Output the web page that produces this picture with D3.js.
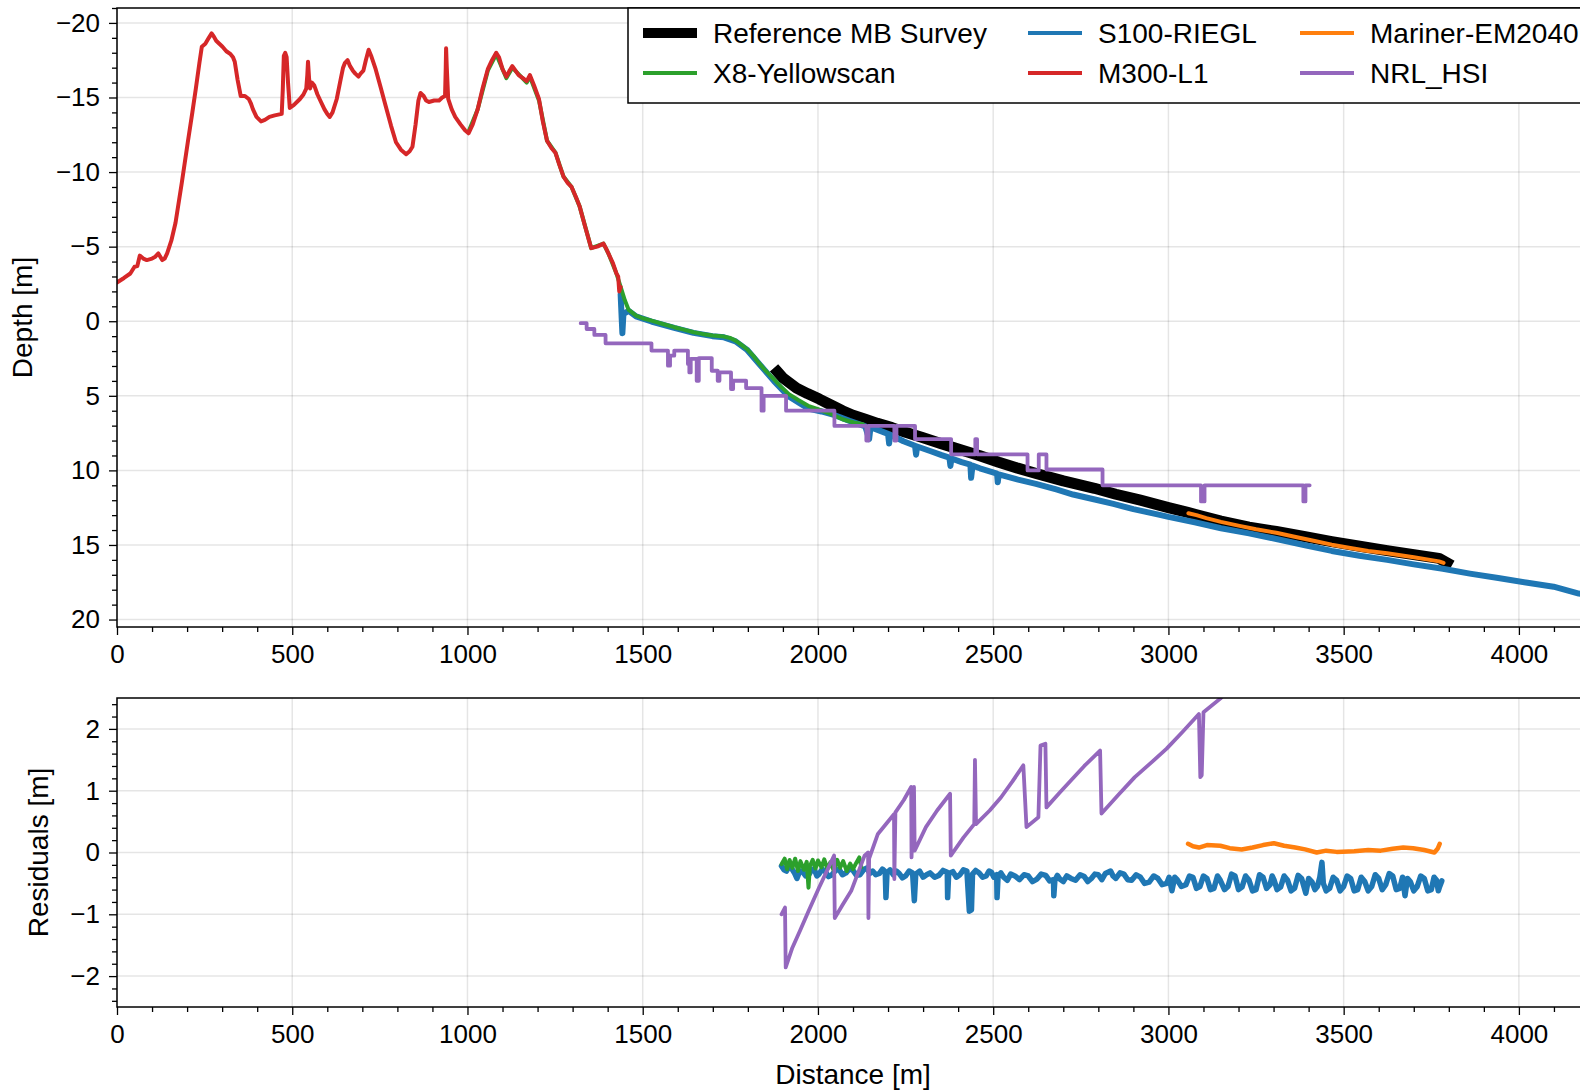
<!DOCTYPE html>
<html>
<head>
<meta charset="utf-8">
<script src="https://cdn.jsdelivr.net/npm/d3@7"></script>
<style>
  body { margin: 0; background: #fff; }
  svg { display: block; font-family: "Liberation Sans", Arial, Helvetica, sans-serif; }
</style>
</head>
<body>
<div id="vis-holder"></div>
<script>
// Figure size and panel placement
const W = 1580, H = 1092;
const left = 117, right = 1589;
const top1 = 8, bottom1 = 627;     // depth panel
const top2 = 698, bottom2 = 1007;  // residual panel

// ---- data: [distance (m), depth (m)] ----
const m300 = [[0,-2.6],[20,-2.9],[38,-3.2],[50,-3.65],[58,-3.7],[65,-4.4],[75,-4.2],[85,-4.1],[100,-4.2],[108,-4.3],[118,-4.55],[124,-4.3],[129,-4.1],[136,-4.2],[143,-4.55],[155,-5.4],[167,-6.6],[185,-9.3],[202,-12.0],[215,-14.0],[225,-15.6],[235,-17.3],[242,-18.4],[252,-18.6],[262,-19.0],[270,-19.3],[276,-19.1],[283,-18.8],[292,-18.6],[301,-18.4],[312,-18.1],[324,-17.9],[331,-17.7],[336,-17.4],[344,-16.2],[353,-15.1],[365,-15.1],[376,-14.9],[382,-14.6],[388,-14.2],[398,-13.7],[411,-13.4],[422,-13.5],[435,-13.7],[450,-13.8],[470,-13.9],[473,-15.5],[476,-17.8],[480,-18.0],[484,-17.7],[488,-16.0],[493,-14.3],[505,-14.5],[522,-14.9],[532,-15.2],[540,-15.6],[543,-16.5],[545,-17.4],[548,-16.3],[551,-15.6],[556,-16.0],[563,-15.8],[572,-15.2],[580,-14.8],[592,-14.2],[600,-13.9],[607,-13.7],[615,-14.0],[627,-14.9],[638,-16.2],[645,-17.0],[650,-17.3],[658,-17.5],[665,-17.1],[673,-16.8],[680,-16.6],[689,-16.4],[695,-16.6],[703,-16.8],[710,-17.5],[718,-18.2],[725,-17.8],[738,-16.9],[752,-15.7],[767,-14.4],[782,-13.1],[796,-12.0],[810,-11.5],[825,-11.2],[835,-11.4],[843,-11.7],[852,-13.2],[860,-14.8],[866,-15.3],[875,-15.1],[882,-14.8],[890,-14.7],[905,-14.8],[919,-14.8],[928,-15.0],[936,-15.1],[938,-17.0],[939,-18.3],[941,-17.0],[945,-14.9],[955,-14.2],[965,-13.7],[980,-13.2],[993,-12.8],[1003,-12.6],[1015,-13.2],[1029,-14.2],[1043,-15.6],[1058,-16.9],[1070,-17.5],[1082,-18.0],[1090,-17.7],[1100,-16.9],[1111,-16.4],[1120,-16.8],[1128,-17.1],[1137,-16.8],[1146,-16.5],[1158,-16.3],[1169,-16.1],[1178,-16.5],[1190,-15.8],[1204,-14.9],[1215,-13.4],[1227,-12.1],[1240,-11.6],[1251,-11.3],[1262,-10.5],[1274,-9.7],[1285,-9.3],[1297,-9.0],[1310,-8.3],[1320,-7.7],[1335,-6.4],[1353,-4.9],[1370,-5.0],[1388,-5.2],[1395,-4.9],[1402,-4.55],[1415,-3.9],[1425,-3.2],[1430,-3.0],[1433,-2.0],[1437,-2.3]];

const x8 = [[1003,-12.7],[1029,-14.2],[1058,-16.8],[1082,-17.9],[1111,-16.3],[1128,-17.0],[1169,-16.0],[1178,-16.4],[1204,-14.8],[1227,-12.1],[1251,-11.3],[1274,-9.7],[1297,-9.0],[1320,-7.7],[1353,-4.9],[1388,-5.2],[1402,-4.55],[1425,-3.2],[1437,-2.3],[1449,-1.4],[1460,-0.76],[1481,-0.38],[1500,-0.2],[1525,-0.04],[1560,0.2],[1590,0.4],[1620,0.58],[1645,0.74],[1670,0.85],[1699,0.96],[1732,1.03],[1750,1.12],[1765,1.3],[1780,1.55],[1797,1.86],[1815,2.3],[1830,2.76],[1850,3.3],[1874,3.88],[1895,4.4],[1917,4.89],[1945,5.3],[1972,5.67],[2000,5.9],[2026,6.12],[2050,6.35],[2070,6.57],[2102,6.79],[2128,6.9]];

const s100 = [[1437,-1.8],[1440,-0.2],[1442,0.8],[1445,-0.5],[1460,-0.7],[1481,-0.33],[1525,0.02],[1590,0.45],[1645,0.78],[1699,1.0],[1732,1.08],[1765,1.35],[1797,1.9],[1830,2.8],[1874,4.0],[1917,5.05],[1972,5.85],[2010,6.05],[2048,6.3],[2090,6.68],[2135,7.05],[2146,7.9],[2150,7.1],[2200,7.55],[2203,8.2],[2206,7.6],[2244,8.05],[2277,8.35],[2280,8.95],[2283,8.4],[2320,8.7],[2353,8.98],[2375,9.15],[2378,9.7],[2381,9.2],[2410,9.45],[2435,9.62],[2437,10.5],[2441,9.68],[2462,9.86],[2511,10.22],[2513,10.8],[2516,10.27],[2571,10.62],[2622,10.9],[2680,11.28],[2728,11.62],[2790,11.95],[2843,12.25],[2900,12.6],[2972,12.97],[3000,13.12],[3075,13.48],[3150,13.88],[3230,14.22],[3308,14.6],[3390,15.02],[3466,15.4],[3545,15.72],[3624,16.0],[3700,16.3],[3783,16.6],[3860,16.92],[3941,17.22],[4020,17.52],[4099,17.8],[4171,18.26],[4200,18.35]];

const referenceMB = [[1885,3.4],[1900,3.8],[1939,4.48],[1970,4.85],[2004,5.22],[2040,5.65],[2070,6.0],[2100,6.3],[2135,6.57],[2170,6.85],[2211,7.13],[2250,7.45],[2298,7.8],[2350,8.2],[2407,8.62],[2460,9.0],[2516,9.45],[2570,9.85],[2625,10.22],[2700,10.7],[2789,11.2],[2850,11.6],[2920,12.0],[3000,12.5],[3055,12.82],[3100,13.1],[3150,13.4],[3230,13.8],[3308,14.1],[3390,14.45],[3466,14.78],[3550,15.1],[3624,15.38],[3700,15.65],[3772,15.9],[3795,16.2]];

const mariner = [[3057,12.87],[3080,13.0],[3108,13.2],[3150,13.45],[3203,13.72],[3250,13.95],[3308,14.18],[3360,14.45],[3414,14.72],[3466,14.98],[3519,15.2],[3570,15.4],[3624,15.56],[3700,15.82],[3772,16.1],[3785,16.2]];

// stepped (value holds until next distance)
const nrl = [[1323,0.13],[1340,0.52],[1362,0.92],[1394,1.48],[1525,1.97],[1572,2.98],[1578,2.31],[1590,1.97],[1629,2.87],[1633,3.43],[1637,2.53],[1654,3.99],[1660,2.47],[1697,3.32],[1714,3.99],[1719,3.43],[1752,4.55],[1758,3.99],[1795,4.48],[1839,6.0],[1845,5.0],[1909,6.0],[2047,7.02],[2138,8.0],[2144,7.02],[2218,8.0],[2224,7.02],[2277,7.9],[2380,8.92],[2449,7.9],[2454,8.92],[2598,10.0],[2630,8.93],[2652,9.94],[2812,11.0],[3093,12.08],[3103,11.0],[3385,12.08],[3391,11.0],[3403,11.0]];

// ---- residuals: [distance (m), residual (m)] ----
const resS100 = [[1896,-0.22],[1903,-0.28],[1910,-0.3],[1918,-0.22],[1925,-0.26],[1933,-0.33],[1940,-0.42],[1948,-0.3],[1955,-0.3],[1965,-0.38],[1975,-0.35],[1983,-0.27],[1990,-0.28],[1997,-0.38],[2003,-0.35],[2012,-0.27],[2020,-0.3],[2030,-0.39],[2040,-0.36],[2050,-0.29],[2060,-0.27],[2070,-0.36],[2080,-0.33],[2090,-0.26],[2100,-0.29],[2110,-0.37],[2120,-0.36],[2130,-0.28],[2140,-0.25],[2148,-0.34],[2156,-0.3],[2165,-0.36],[2175,-0.34],[2184,-0.27],[2192,-0.31],[2194,-0.73],[2197,-0.33],[2206,-0.28],[2215,-0.36],[2224,-0.3],[2232,-0.34],[2241,-0.41],[2250,-0.38],[2260,-0.3],[2270,-0.33],[2275,-0.78],[2279,-0.35],[2290,-0.3],[2300,-0.4],[2310,-0.36],[2320,-0.33],[2333,-0.4],[2345,-0.37],[2357,-0.29],[2369,-0.32],[2370,-0.73],[2373,-0.34],[2385,-0.31],[2395,-0.4],[2405,-0.36],[2415,-0.28],[2425,-0.3],[2432,-0.95],[2438,-0.93],[2441,-0.35],[2450,-0.29],[2460,-0.33],[2470,-0.4],[2480,-0.38],[2488,-0.3],[2495,-0.32],[2502,-0.4],[2510,-0.36],[2511,-0.73],[2514,-0.38],[2522,-0.33],[2530,-0.4],[2540,-0.45],[2550,-0.35],[2562,-0.38],[2575,-0.44],[2588,-0.36],[2600,-0.38],[2612,-0.47],[2625,-0.43],[2637,-0.35],[2650,-0.37],[2661,-0.46],[2672,-0.44],[2673,-0.7],[2676,-0.45],[2683,-0.37],[2690,-0.43],[2700,-0.47],[2710,-0.38],[2722,-0.42],[2735,-0.45],[2748,-0.36],[2760,-0.39],[2770,-0.47],[2780,-0.42],[2790,-0.35],[2800,-0.36],[2810,-0.44],[2820,-0.34],[2835,-0.3],[2842,-0.38],[2850,-0.42],[2862,-0.33],[2873,-0.35],[2884,-0.44],[2895,-0.45],[2908,-0.36],[2920,-0.4],[2932,-0.5],[2945,-0.48],[2958,-0.38],[2970,-0.42],[2982,-0.52],[2995,-0.5],[3002,-0.4],[3010,-0.62],[3018,-0.4],[3025,-0.44],[3037,-0.55],[3050,-0.52],[3060,-0.38],[3070,-0.4],[3080,-0.58],[3090,-0.55],[3100,-0.38],[3110,-0.42],[3120,-0.6],[3130,-0.58],[3140,-0.38],[3148,-0.45],[3160,-0.6],[3170,-0.55],[3180,-0.35],[3190,-0.38],[3200,-0.6],[3210,-0.56],[3220,-0.38],[3230,-0.45],[3240,-0.62],[3250,-0.6],[3260,-0.36],[3270,-0.4],[3280,-0.58],[3290,-0.52],[3296,-0.38],[3301,-0.44],[3310,-0.6],[3320,-0.56],[3330,-0.38],[3340,-0.45],[3350,-0.62],[3360,-0.58],[3370,-0.37],[3380,-0.42],[3392,-0.66],[3400,-0.42],[3410,-0.48],[3418,-0.6],[3425,-0.55],[3432,-0.4],[3438,-0.16],[3442,-0.5],[3450,-0.62],[3460,-0.58],[3470,-0.4],[3480,-0.45],[3490,-0.62],[3500,-0.55],[3510,-0.38],[3520,-0.42],[3530,-0.62],[3540,-0.6],[3550,-0.4],[3560,-0.47],[3570,-0.62],[3580,-0.55],[3590,-0.36],[3600,-0.42],[3610,-0.6],[3620,-0.52],[3630,-0.34],[3640,-0.38],[3650,-0.6],[3660,-0.58],[3668,-0.4],[3675,-0.7],[3682,-0.42],[3690,-0.47],[3700,-0.62],[3710,-0.55],[3720,-0.38],[3730,-0.42],[3740,-0.62],[3750,-0.6],[3758,-0.4],[3765,-0.45],[3770,-0.62],[3774,-0.55],[3780,-0.46]];

const resX8 = [[1896,-0.19],[1905,-0.1],[1912,-0.27],[1919,-0.12],[1927,-0.25],[1935,-0.1],[1943,-0.3],[1950,-0.14],[1960,-0.28],[1968,-0.15],[1973,-0.57],[1977,-0.22],[1985,-0.12],[1993,-0.26],[2000,-0.13],[2010,-0.24],[2018,-0.11],[2027,-0.27],[2035,-0.16],[2045,-0.29],[2055,-0.12],[2063,-0.25],[2072,-0.14],[2082,-0.3],[2092,-0.18],[2100,-0.27],[2110,-0.16],[2118,-0.08],[2124,-0.24]];

const resMariner = [[3056,0.14],[3070,0.1],[3087,0.08],[3110,0.12],[3148,0.11],[3175,0.07],[3209,0.05],[3240,0.08],[3270,0.12],[3301,0.15],[3330,0.11],[3362,0.08],[3390,0.05],[3423,0.0],[3450,0.03],[3480,0.01],[3530,0.02],[3570,0.04],[3606,0.03],[3640,0.06],[3670,0.08],[3698,0.07],[3730,0.04],[3759,0.0],[3768,0.06],[3774,0.14]];

const resNRL = [[1896,-1.0],[1906,-0.89],[1908,-1.86],[1927,-1.54],[1950,-1.25],[1973,-0.95],[2003,-0.57],[2046,-0.05],[2048,-1.06],[2070,-0.85],[2095,-0.62],[2133,-0.05],[2143,0.0],[2144,-1.06],[2146,-0.1],[2171,0.3],[2217,0.62],[2218,-0.43],[2221,0.65],[2245,0.85],[2266,1.06],[2267,-0.08],[2274,1.06],[2276,0.03],[2308,0.41],[2340,0.68],[2377,0.95],[2379,-0.05],[2415,0.24],[2446,0.46],[2448,1.5],[2451,0.46],[2490,0.68],[2522,0.89],[2555,1.15],[2586,1.41],[2595,0.41],[2629,0.57],[2635,1.73],[2649,1.76],[2652,0.73],[2690,0.97],[2721,1.16],[2760,1.4],[2805,1.65],[2809,0.63],[2860,0.95],[2904,1.22],[2950,1.45],[2995,1.68],[3040,1.95],[3087,2.24],[3091,1.22],[3095,1.25],[3100,2.27],[3148,2.49],[3250,3.1],[3400,4.0]];

// ticks
const xTicks = [0, 500, 1000, 1500, 2000, 2500, 3000, 3500, 4000];
const depthTicks = [-20, -15, -10, -5, 0, 5, 10, 15, 20];
const resTicks = [-2, -1, 0, 1, 2];

const colors = { ref: "#000000", x8: "#2ca02c", s100: "#1f77b4", m300: "#d62728", mariner: "#ff7f0e", nrl: "#9467bd" };

const svg = d3.select("#vis-holder").append("svg")
  .attr("width", W).attr("height", H);

const x = d3.scaleLinear().domain([0, 4200]).range([left, right]);
const y1 = d3.scaleLinear().domain([-21, 20.5]).range([top1, bottom1]);
const y2 = d3.scaleLinear().domain([-2.5, 2.5]).range([bottom2, top2]);

const defs = svg.append("defs");
defs.append("clipPath").attr("id", "clip1").append("rect")
  .attr("x", left).attr("y", top1).attr("width", right - left).attr("height", bottom1 - top1);
defs.append("clipPath").attr("id", "clip2").append("rect")
  .attr("x", left).attr("y", top2).attr("width", right - left).attr("height", bottom2 - top2);

function minorRange(a, b, step) {
  const out = [];
  for (let v = a; v <= b + 1e-9; v += step) out.push(+v.toFixed(4));
  return out;
}

function drawPanel(yScale, yTicks, yMinor, top, bottom, clipId) {
  const g = svg.append("g");
  // grid
  g.append("g").selectAll("line").data(xTicks).join("line")
    .attr("x1", d => x(d)).attr("x2", d => x(d))
    .attr("y1", top).attr("y2", bottom)
    .attr("stroke", "#000").attr("stroke-opacity", 0.1).attr("stroke-width", 1.5);
  g.append("g").selectAll("line").data(yTicks).join("line")
    .attr("x1", left).attr("x2", right)
    .attr("y1", d => yScale(d)).attr("y2", d => yScale(d))
    .attr("stroke", "#000").attr("stroke-opacity", 0.1).attr("stroke-width", 1.5);

  // minor ticks
  g.append("g").attr("transform", `translate(0,${bottom})`)
    .call(d3.axisBottom(x).tickValues(minorRange(0, 4200, 100).filter(v => v % 500 !== 0)).tickSize(5).tickFormat(""))
    .call(a => a.select(".domain").remove());
  g.append("g").attr("transform", `translate(${left},0)`)
    .call(d3.axisLeft(yScale).tickValues(yMinor).tickSize(5).tickFormat(""))
    .call(a => a.select(".domain").remove());

  // major ticks
  g.append("g").attr("class", "xaxis").attr("transform", `translate(0,${bottom})`)
    .call(d3.axisBottom(x).tickValues(xTicks).tickSize(8).tickPadding(10).tickFormat(d3.format("d")))
    .call(a => a.select(".domain").remove());
  g.append("g").attr("class", "yaxis").attr("transform", `translate(${left},0)`)
    .call(d3.axisLeft(yScale).tickValues(yTicks).tickSize(8).tickPadding(9).tickFormat(d3.format("d")))
    .call(a => a.select(".domain").remove());

  g.selectAll(".tick line").attr("stroke", "#000").attr("stroke-width", 1.3);
  g.selectAll(".tick text").attr("font-size", 26).attr("fill", "#000")
    .attr("font-family", "'Liberation Sans', Arial, sans-serif");

  const plot = svg.append("g").attr("clip-path", `url(#${clipId})`);
  return plot;
}

const yMinor1 = minorRange(-21, 20, 1).filter(v => v % 5 !== 0);
const yMinor2 = minorRange(-2.4, 2.4, 0.2).filter(v => Math.abs(Math.round(v) - v) > 1e-6);

const plot1 = drawPanel(y1, depthTicks, yMinor1, top1, bottom1, "clip1");
const plot2 = drawPanel(y2, resTicks, yMinor2, top2, bottom2, "clip2");

const line1 = d3.line().x(d => x(d[0])).y(d => y1(d[1]));
const step1 = d3.line().x(d => x(d[0])).y(d => y1(d[1])).curve(d3.curveStepAfter);
const line2 = d3.line().x(d => x(d[0])).y(d => y2(d[1]));

function addPath(g, data, gen, color, w, cap) {
  g.append("path").datum(data)
    .attr("d", gen)
    .attr("fill", "none")
    .attr("stroke", color)
    .attr("stroke-width", w)
    .attr("stroke-linejoin", "round")
    .attr("stroke-linecap", cap || "round");
}

// depth panel series
addPath(plot1, referenceMB, line1, colors.ref, 11, "square");
addPath(plot1, s100, line1, colors.s100, 6);
addPath(plot1, x8, line1, colors.x8, 4);
addPath(plot1, m300, line1, colors.m300, 4);
addPath(plot1, mariner, line1, colors.mariner, 4);
addPath(plot1, nrl, step1, colors.nrl, 3.8);

// residual panel series
addPath(plot2, resS100, line2, colors.s100, 5.5);
addPath(plot2, resX8, line2, colors.x8, 4);
addPath(plot2, resMariner, line2, colors.mariner, 4.5);
addPath(plot2, resNRL, line2, colors.nrl, 3.8);

// frames
[[top1, bottom1], [top2, bottom2]].forEach(([t, b]) => {
  svg.append("rect").attr("x", left).attr("y", t)
    .attr("width", right - left).attr("height", b - t)
    .attr("fill", "none").attr("stroke", "#000").attr("stroke-width", 1.5);
});

// axis labels
svg.append("text").attr("transform", `translate(32,${(top1 + bottom1) / 2}) rotate(-90)`)
  .attr("text-anchor", "middle").attr("font-size", 28).text("Depth [m]");
svg.append("text").attr("transform", `translate(48,${(top2 + bottom2) / 2}) rotate(-90)`)
  .attr("text-anchor", "middle").attr("font-size", 28).text("Residuals [m]");
svg.append("text").attr("x", (left + right) / 2).attr("y", 1084)
  .attr("text-anchor", "middle").attr("font-size", 28).text("Distance [m]");

// legend
const legendItems = [
  { label: "Reference MB Survey", color: colors.ref, w: 10, col: 0, row: 0 },
  { label: "X8-Yellowscan", color: colors.x8, w: 4, col: 0, row: 1 },
  { label: "S100-RIEGL", color: colors.s100, w: 4, col: 1, row: 0 },
  { label: "M300-L1", color: colors.m300, w: 4, col: 1, row: 1 },
  { label: "Mariner-EM2040", color: colors.mariner, w: 4, col: 2, row: 0 },
  { label: "NRL_HSI", color: colors.nrl, w: 4, col: 2, row: 1 }
];
const colX = [643, 1028, 1300];
const rowY = [33, 73];
const lg = svg.append("g");
lg.append("rect").attr("x", 628).attr("y", top1).attr("width", 1000).attr("height", 95)
  .attr("fill", "#fff").attr("stroke", "#000").attr("stroke-width", 1.5);
const items = lg.selectAll("g.item").data(legendItems).join("g").attr("class", "item")
  .attr("transform", d => `translate(${colX[d.col]},${rowY[d.row]})`);
items.append("line").attr("x1", 0).attr("x2", 54).attr("y1", 0).attr("y2", 0)
  .attr("stroke", d => d.color).attr("stroke-width", d => d.w);
items.append("text").attr("x", 70).attr("dy", "0.35em").attr("font-size", 28).text(d => d.label);
</script>
</body>
</html>
